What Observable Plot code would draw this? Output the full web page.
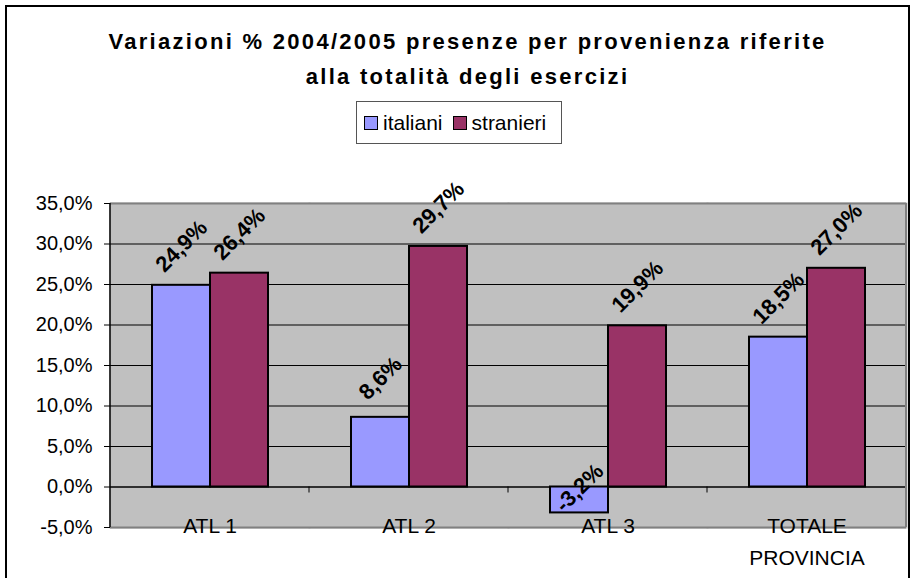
<!DOCTYPE html>
<html>
<head>
<meta charset="utf-8">
<script src="https://cdn.jsdelivr.net/npm/d3@7"></script>
<script src="https://cdn.jsdelivr.net/npm/@observablehq/plot@0.6"></script>
<style>
  body { margin: 0; background: #fff; font-family: "Liberation Sans", Arial, sans-serif; }
  #wrap { position: relative; width: 915px; height: 578px; overflow: hidden; background: #fff; }
  #border { position: absolute; left: 5px; top: 5px; width: 901px; height: 640px; border: 2px solid #000; }
  #chart { position: absolute; left: 0; top: 0; }
  #title { position: absolute; left: 10px; top: 24px; width: 915px; text-align: center; font-weight: bold;
           font-size: 22px; line-height: 35px; letter-spacing: 2.3px; color: #000; }
  #legend { position: absolute; left: 356px; top: 101px; width: 204px; height: 41px; border: 1.5px solid #555;
            background: #fff; display: flex; align-items: center; font-size: 21px; color: #000; }
  .sw { display: inline-block; width: 12px; height: 12px; border: 1.5px solid #000; }
  .lab { display: inline-block; }
</style>
</head>
<body>
<div id="wrap">
  <div id="border"></div>
  <div id="chart"></div>
  <div id="title">Variazioni % 2004/2005 presenze per provenienza riferite<br>alla totalità degli esercizi</div>
  <div id="legend"></div>
</div>
<script>
// ---- data ----
const categories = ["ATL 1", "ATL 2", "ATL 3", "TOTALE PROVINCIA"];
const categoryLabels = ["ATL 1", "ATL 2", "ATL 3", "TOTALE\nPROVINCIA"];
const series = ["italiani", "stranieri"];
const italiani = [24.9, 8.6, -3.2, 18.5];
const stranieri = [26.4, 29.7, 19.9, 27.0];
const yTicks = [-5, 0, 5, 10, 15, 20, 25, 30, 35];
const gridTicks = [5, 10, 15, 20, 25, 30];
const colors = ["#9999FF", "#993366"];

const fmt = v => v.toFixed(1).replace(".", ",") + "%";

const rows = [];
categories.forEach((c, i) => {
  rows.push({cat: c, series: series[0], value: italiani[i]});
  rows.push({cat: c, series: series[1], value: stranieri[i]});
});

// per-facet decorations: left axis line (first facet), category tick on the zero line,
// right plot-area border (last facet)
let facetCall = 0;
const decor = (index, scales, values, dim) => {
  const k = (index && index.fx !== undefined) ? categories.indexOf(index.fx) : (facetCall++ % categories.length);
  const g = d3.create("svg:g");
  const xl = dim.marginLeft, xr = dim.width - dim.marginRight;
  const yTop = scales.y(35), yBot = scales.y(-5), y0 = scales.y(0);
  if (k === 0) {
    g.append("line").attr("x1", xl).attr("x2", xl).attr("y1", yTop).attr("y2", yBot)
      .attr("stroke", "#000").attr("stroke-width", 1.5);
  } else {
    g.append("line").attr("x1", xl).attr("x2", xl).attr("y1", y0).attr("y2", y0 + 6)
      .attr("stroke", "#000").attr("stroke-width", 1);
  }
  if (k === categories.length - 1) {
    g.append("line").attr("x1", xr).attr("x2", xr).attr("y1", yTop).attr("y2", yBot)
      .attr("stroke", "#808080").attr("stroke-width", 2);
  }
  return g.node();
};

const chart = Plot.plot({
  width: 915,
  height: 578,
  marginTop: 203,
  marginBottom: 51,
  marginLeft: 110,
  marginRight: 9,
  style: {background: "transparent", fontFamily: "'Liberation Sans', Arial, sans-serif", fontSize: "20px", color: "#000"},
  fx: {domain: categories, padding: 0, axis: null, label: null},
  x: {domain: series, paddingInner: 0, paddingOuter: 0.715, axis: null, label: null},
  y: {domain: [-5, 35], label: null},
  color: {domain: series, range: colors},
  marks: [
    Plot.frame({fill: "#C0C0C0", stroke: "#C0C0C0", strokeWidth: 2}),
    Plot.ruleY(gridTicks, {stroke: "#000", strokeWidth: 1}),
    Plot.ruleY([35, -5], {stroke: "#808080", strokeWidth: 2}),
    Plot.ruleY([0], {stroke: "#000", strokeWidth: 1.5}),
    decor,
    Plot.barY(rows, {fx: "cat", x: "series", y: "value", fill: "series", stroke: "#000", strokeWidth: 2}),
    Plot.text(rows.filter(d => d.value >= 0), {
      fx: "cat", x: "series", y: "value", text: d => fmt(d.value),
      rotate: -45, dy: -39, fontSize: 22, fontWeight: "bold", fill: "#000"
    }),
    Plot.text(rows.filter(d => d.value < 0), {
      fx: "cat", x: "series", y: "value", text: d => fmt(d.value),
      rotate: -45, dy: -25, fontSize: 22, fontWeight: "bold", fill: "#000"
    }),
    Plot.text(categories, {
      fx: d => d, text: (d, i) => categoryLabels[i],
      frameAnchor: "bottom", lineAnchor: "top", dy: -18, fontSize: 21, lineHeight: 1.55, fill: "#000"
    }),
    Plot.axisY(yTicks, {tickFormat: fmt, tickSize: 6, tickPadding: 12, fontSize: 20, label: null, stroke: "#000"})
  ]
});
document.getElementById("chart").appendChild(chart);

// legend
const legend = d3.select("#legend");
series.forEach((s, i) => {
  legend.append("span").attr("class", "sw")
    .style("background", colors[i])
    .style("margin-left", i === 0 ? "7px" : "10px")
    .style("margin-right", "5px");
  legend.append("span").attr("class", "lab").text(s);
});
</script>
</body>
</html>
